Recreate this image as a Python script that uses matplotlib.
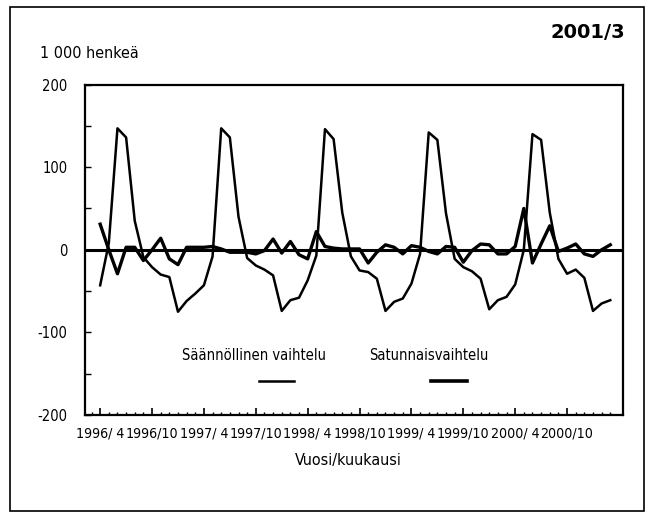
import numpy as np
import matplotlib
matplotlib.use("Agg")
import matplotlib.pyplot as plt
from matplotlib.lines import Line2D
from matplotlib.patches import Rectangle

# Monthly data, 1996/4 ... 2001/3 (1000 persons)
seasonal = [-43, 8, 147, 136, 35, -9, -21, -30, -33, -75, -62, -53,
            -43, -8, 147, 136, 40, -10, -19, -24, -31, -74, -61, -58,
            -37, -7, 146, 134, 45, -8, -25, -27, -35, -74, -63, -59,
            -41, -5, 142, 133, 44, -11, -21, -26, -35, -72, -61, -57,
            -42, 0, 140, 133, 45, -11, -29, -24, -34, -74, -65, -61]
irregular = [31, 0, -29, 3, 3, -13, 0, 14, -11, -18, 3, 3,
             3, 4, 1, -3, -3, -3, -5, -1, 13, -4, 10, -6,
             -11, 22, 4, 2, 1, 1, 1, -16, -3, 6, 3, -5,
             5, 3, -2, -5, 4, 3, -15, -1, 7, 6, -5, -5,
             4, 50, -16, 7, 29, -2, 2, 7, -5, -8, 0, 6]
tick_months = [0, 6, 12, 18, 24, 30, 36, 42, 48, 54]
tick_labels = ["1996/ 4", "1996/10", "1997/ 4", "1997/10", "1998/ 4",
               "1998/10", "1999/ 4", "1999/10", "2000/ 4", "2000/10"]
y_major = [-200, -100, 0, 100, 200]
y_minor = [-150, -50, 50, 150]
legend_labels = ["Säännöllinen vaihtelu", "Satunnaisvaihtelu"]

narrow = dict(fontfamily=['DejaVu Sans'], fontstretch='condensed')

fig = plt.figure(figsize=(6.47, 5.18), dpi=100)
fig.patch.set_facecolor('white')
ax = fig.add_axes([0.1321, 0.1988, 0.8312, 0.638])

x = np.arange(len(seasonal))
ax.axhline(0, color='black', lw=2.2, zorder=2)
ax.plot(x, seasonal, color='black', lw=1.8, zorder=3)
ax.plot(x, irregular, color='black', lw=2.4, zorder=4)

ax.set_xlim(-1.7, 60.5)
ax.set_ylim(-200, 200)

ax.set_xticks(tick_months)
ax.set_xticklabels(tick_labels, fontsize=10.2, **narrow)
ax.set_xticks(np.arange(-1, len(seasonal)), minor=True)
ax.set_yticks(y_major)
ax.set_yticklabels([str(v) for v in y_major], fontsize=10.5, **narrow)
ax.set_yticks(y_minor, minor=True)

ax.tick_params(axis='x', which='major', direction='in', length=5, width=1.2, pad=8)
ax.tick_params(axis='x', which='minor', direction='in', length=2.5, width=1.0)
ax.tick_params(axis='y', which='both', direction='in', length=4, width=1.0, pad=13)

for s in ax.spines.values():
    s.set_linewidth(1.6)

# legend drawn like the original: label text with a sample line below it
fig.text(254 / 647, 1 - 355 / 518, legend_labels[0], ha='center', va='center',
         fontsize=10.5, **narrow)
fig.text(429 / 647, 1 - 355 / 518, legend_labels[1], ha='center', va='center',
         fontsize=10.5, **narrow)
fig.add_artist(Line2D([259 / 647, 294 / 647], [1 - 381 / 518, 1 - 381 / 518],
                      transform=fig.transFigure, color='black', lw=1.8))
fig.add_artist(Line2D([431 / 647, 467 / 647], [1 - 381 / 518, 1 - 381 / 518],
                      transform=fig.transFigure, color='black', lw=2.6))

fig.text(40 / 647, 1 - 53 / 518, "1 000 henkeä", ha='left', va='center',
         fontsize=11.5, **narrow)
fig.text(625 / 647, 1 - 33 / 518, "2001/3", ha='right', va='center',
         fontfamily=['DejaVu Sans'], fontweight='bold', fontsize=14)
fig.text(348 / 647, 1 - 460 / 518, "Vuosi/kuukausi", ha='center', va='center',
         fontsize=11.5, **narrow)

fig.add_artist(Rectangle((10 / 647, 1 - 511 / 518), 634 / 647, 504 / 518,
                         transform=fig.transFigure, fill=False,
                         edgecolor='black', lw=1.2))

fig.savefig("out.png", dpi=100, facecolor='white')
